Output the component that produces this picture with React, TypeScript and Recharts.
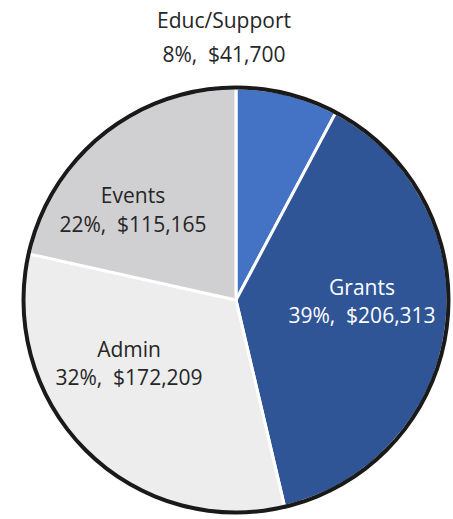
import { Cell, Pie, PieChart } from "recharts";

const categories = ["Educ/Support", "Grants", "Admin", "Events"];
const amounts = [41700, 206313, 172209, 115165];
const colors = ["#4472c4", "#2f5597", "#ededed", "#d0d0d2"];
const textColors = ["#262626", "#ffffff", "#262626", "#262626"];

// label placement relative to the pie centre: [dx, dy of line 1, dy of line 2]
const labelOffsets: Record<string, [number, number, number]> = {
  "Educ/Support": [-12, -280, -246],
  Grants: [126, -13, 15],
  Admin: [-107, 49, 77],
  Events: [-103, -105, -76],
};

const data = categories.map((name, i) => ({ name, value: amounts[i] }));
const ring = [{ name: "ring", value: 1 }];

const FONT = "'Open Sans', 'Noto Sans', sans-serif";

function renderLabel(props: any) {
  const { cx, cy, name, value, percent, index } = props;
  const [dx, dy1, dy2] = labelOffsets[name];
  const fill = textColors[index];
  return (
    <g>
      <text x={cx + dx} y={cy + dy1} textAnchor="middle" dominantBaseline="central" fill={fill} fontSize={21} fontFamily={FONT}>
        {name}
      </text>
      <text x={cx + dx} y={cy + dy2} textAnchor="middle" dominantBaseline="central" fill={fill} fontSize={21} fontFamily={FONT} style={{ whiteSpace: "pre" }}>
        {`${Math.round(percent * 100)}%,  $${value.toLocaleString("en-US")}`}
      </text>
    </g>
  );
}

export default function App() {
  return (
    <div style={{ position: "absolute", left: 0, top: 0 }}>
      <PieChart width={453} height={519} margin={{ top: 0, right: 0, bottom: 0, left: 0 }}>
        <Pie
          data={data}
          dataKey="value"
          nameKey="name"
          cx={236}
          cy={300}
          outerRadius={212}
          startAngle={90}
          endAngle={-270}
          stroke="#ffffff"
          strokeWidth={3}
          label={renderLabel}
          labelLine={false}
          isAnimationActive={false}
        >
          {data.map((d, i) => (
            <Cell key={d.name} fill={colors[i]} />
          ))}
        </Pie>
        <Pie
          data={ring}
          dataKey="value"
          cx={236}
          cy={300}
          innerRadius={210.5}
          outerRadius={214.5}
          startAngle={90}
          endAngle={-270}
          fill="#1a1a1a"
          stroke="none"
          isAnimationActive={false}
        />
      </PieChart>
    </div>
  );
}
